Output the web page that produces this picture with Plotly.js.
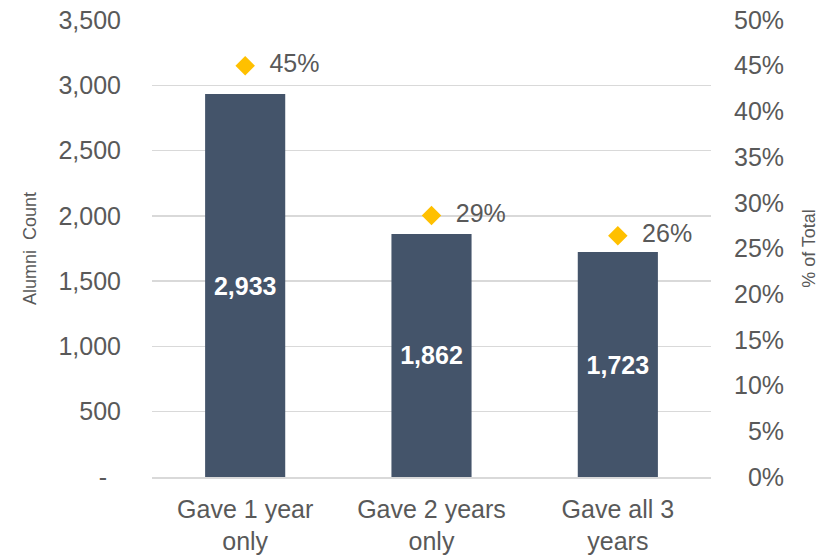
<!DOCTYPE html>
<html>
<head>
<meta charset="utf-8">
<script src="https://cdn.plot.ly/plotly-3.0.1.min.js"></script>
<style>html,body{margin:0;padding:0;background:#fff;}#chart{width:821px;height:555px;}</style>
</head>
<body>
<div id="chart"></div>
<script>
// Data
const categories = ["Gave 1 year<br>only", "Gave 2 years<br>only", "Gave all 3<br>years"];
const alumniCount = [2933, 1862, 1723];
const pctOfTotal = [0.45, 0.286, 0.264];
const leftTickVals = [0, 500, 1000, 1500, 2000, 2500, 3000, 3500];
const leftTickText = ["-\u00a0\u00a0", "500", "1,000", "1,500", "2,000", "2,500", "3,000", "3,500"];
const rightTickVals = [0, 0.05, 0.10, 0.15, 0.20, 0.25, 0.30, 0.35, 0.40, 0.45, 0.50];
const rightTickText = ["\u00a0\u00a00%", "\u00a0\u00a05%", "10%", "15%", "20%", "25%", "30%", "35%", "40%", "45%", "50%"];

const FONT = '"Liberation Sans", Arial, sans-serif';
const GRAY = '#595959';

const bars = {
  type: 'bar',
  x: categories,
  y: alumniCount,
  marker: {color: '#44546A'},
  width: 0.43,
  texttemplate: '%{y:,}',
  textposition: 'inside',
  insidetextanchor: 'middle',
  constraintext: 'none',
  textfont: {family: FONT, size: 25, color: '#ffffff', weight: 'bold'},
  hoverinfo: 'skip',
  yaxis: 'y'
};

const pts = {
  type: 'scatter',
  mode: 'markers+text',
  x: categories,
  y: pctOfTotal,
  yaxis: 'y2',
  marker: {symbol: 'diamond', size: 15, color: '#FFC000'},
  texttemplate: '\u00a0\u00a0%{y:.0%}',
  textposition: 'middle right',
  textfont: {family: FONT, size: 25, color: GRAY},
  cliponaxis: false,
  hoverinfo: 'skip'
};

const layout = {
  width: 821, height: 555,
  margin: {l: 152, r: 110, t: 20, b: 78},
  paper_bgcolor: '#fff', plot_bgcolor: '#fff',
  showlegend: false,
  font: {family: FONT, color: GRAY, size: 25},
  xaxis: {
    type: 'category',
    showline: true, linecolor: '#d9d9d9', linewidth: 1.5,
    ticks: '', showgrid: false,
    ticklabelstandoff: 9,
    tickfont: {family: FONT, size: 25, color: GRAY},
    fixedrange: true
  },
  yaxis: {
    range: [0, 3500],
    tickvals: leftTickVals, ticktext: leftTickText,
    showgrid: true, gridcolor: '#d9d9d9', gridwidth: 1.5,
    zeroline: false, showline: false, ticks: '',
    ticklabelstandoff: 30,
    tickfont: {family: FONT, size: 25, color: GRAY},
    title: {text: 'Alumni  Count', font: {family: FONT, size: 18, color: GRAY}, standoff: 17},
    automargin: false
  },
  yaxis2: {
    overlaying: 'y', side: 'right',
    range: [0, 0.5],
    tickvals: rightTickVals, ticktext: rightTickText,
    showgrid: false, zeroline: false, showline: false, ticks: '',
    ticklabelstandoff: 22,
    tickfont: {family: FONT, size: 25, color: GRAY},
    title: {text: '% of Total', font: {family: FONT, size: 18, color: GRAY}, standoff: 19},
    automargin: false
  }
};

Plotly.newPlot('chart', [bars, pts], layout, {displayModeBar: false, staticPlot: true});
</script>
</body>
</html>
